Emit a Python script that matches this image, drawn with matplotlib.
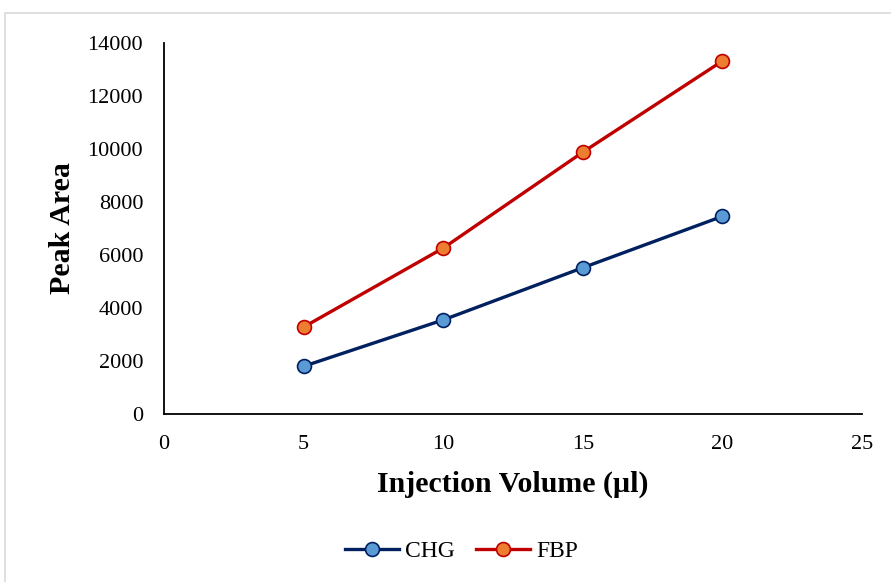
import numpy as np
import matplotlib.pyplot as plt
from matplotlib.patches import Rectangle

plt.rcParams['font.family'] = ['Liberation Serif', 'DejaVu Serif']

injection_volume = [5, 10, 15, 20]
chg_area = [1800, 3550, 5520, 7460]
fbp_area = [3280, 6260, 9880, 13320]

x_ticks = [0, 5, 10, 15, 20, 25]
y_ticks = [0, 2000, 4000, 6000, 8000, 10000, 12000, 14000]

fig = plt.figure(figsize=(8.91, 5.82), dpi=100)
# light chart frame
fig.patches.append(Rectangle((5 / 891, -0.01), 1.0, 1 - 13 / 582 + 0.01,
                             transform=fig.transFigure, fill=False,
                             edgecolor='#d9d9d9', lw=1.2))

ax = fig.add_axes([164 / 891, 1 - 414 / 582, (862 - 164) / 891, (414 - 43) / 582])

ax.plot(injection_volume, chg_area, color='#002060', lw=2.4, marker='o', ms=10,
        mfc='#5B9BD5', mec='#002060', mew=1.2, label='CHG', zorder=3)
ax.plot(injection_volume, fbp_area, color='#C00000', lw=2.4, marker='o', ms=10,
        mfc='#ED7D31', mec='#C00000', mew=1.2, label='FBP', zorder=3)

ax.set_xlim(0, 25)
ax.set_ylim(0, 14000)
ax.set_xticks(x_ticks)
ax.set_yticks(y_ticks)
ax.tick_params(length=0, labelsize=16)
ax.tick_params(axis='x', pad=15)
ax.tick_params(axis='y', pad=15)
for side in ['top', 'right']:
    ax.spines[side].set_visible(False)
for side in ['left', 'bottom']:
    ax.spines[side].set_linewidth(1.3)
    ax.spines[side].set_color('black')

ax.set_xlabel('Injection Volume (µl)', fontsize=21.5, fontweight='bold', labelpad=12)
ax.set_ylabel('Peak Area', fontsize=21.5, fontweight='bold', labelpad=8)

fig.legend(loc='center', bbox_to_anchor=(0.518, 1 - 551 / 582), ncol=2, frameon=False,
           fontsize=17, handlelength=2.3, columnspacing=0.9, handletextpad=0.25)

fig.savefig('out.png', dpi=100)
